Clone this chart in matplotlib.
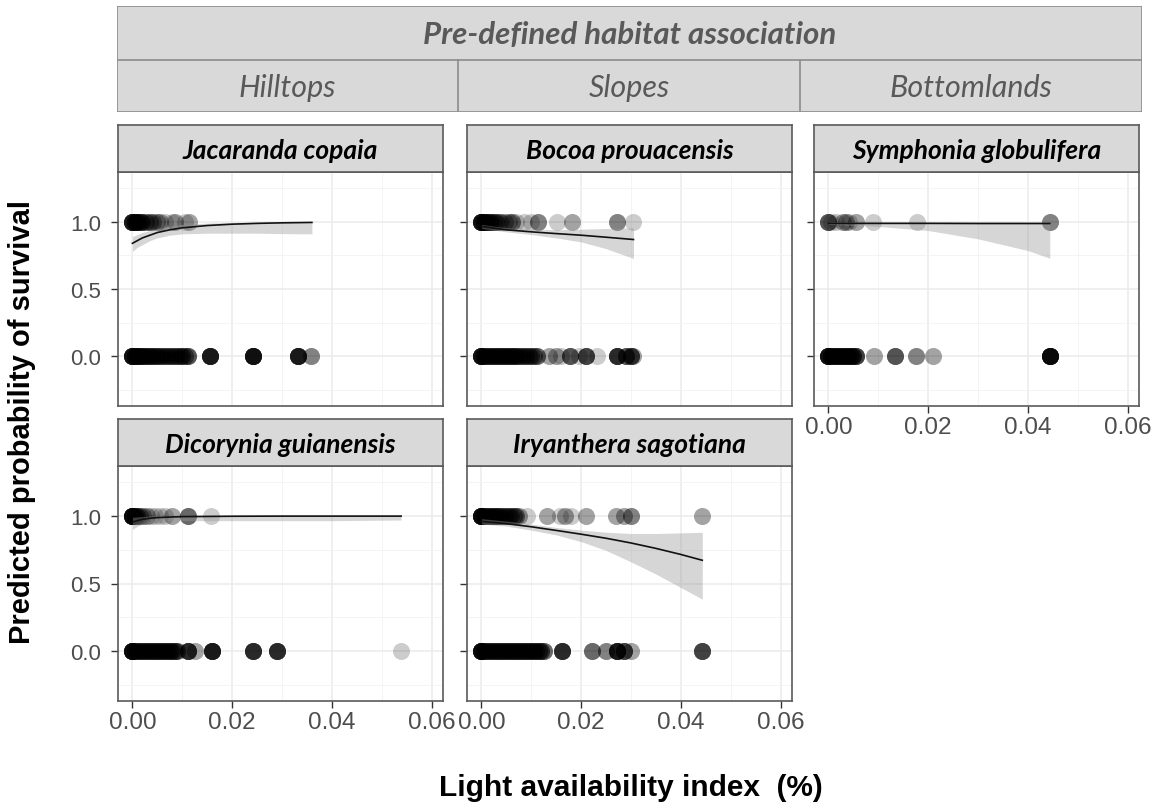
import numpy as np
import matplotlib
matplotlib.use('Agg')
import matplotlib.pyplot as plt
from matplotlib.patches import Rectangle

W, H = 1159, 803

# ---- data: (light index, number of seedlings) ----
species = ['Jacaranda copaia', 'Bocoa prouacensis', 'Symphonia globulifera',
           'Dicorynia guianensis', 'Iryanthera sagotiana']
habitats = ['Hilltops', 'Slopes', 'Bottomlands']

jac_alive = [(0.0, 10), (0.0005, 6), (0.001, 6), (0.0015, 4), (0.002, 4), (0.0028, 3),
             (0.0035, 3), (0.0042, 2), (0.005, 2), (0.0056, 2), (0.0065, 1), (0.008, 1),
             (0.0086, 2), (0.0105, 1), (0.0113, 2)]
jac_dead = [(0.0, 12), (0.0005, 6), (0.001, 6), (0.0015, 5), (0.002, 5), (0.0025, 4),
            (0.003, 4), (0.0035, 4), (0.004, 4), (0.0045, 3), (0.005, 4), (0.0055, 3),
            (0.006, 3), (0.0065, 3), (0.007, 3), (0.0075, 3), (0.008, 3), (0.0085, 3),
            (0.009, 3), (0.0095, 3), (0.01, 4), (0.0105, 3), (0.0112, 5), (0.0156, 10),
            (0.0241, 12), (0.0332, 10), (0.0358, 3)]

boc_alive = [(0.0, 12), (0.0005, 6), (0.001, 5), (0.0015, 4), (0.002, 4), (0.0025, 3),
             (0.003, 3), (0.0035, 2), (0.004, 2), (0.0048, 2), (0.0055, 2), (0.0062, 3),
             (0.007, 1), (0.0085, 1), (0.01, 1), (0.0113, 3), (0.0151, 1), (0.0181, 2),
             (0.0272, 3), (0.0305, 1)]
boc_dead = [(0.0, 12), (0.0005, 4), (0.001, 4), (0.0015, 4), (0.002, 4), (0.0025, 4),
            (0.003, 4), (0.0035, 4), (0.004, 4), (0.0045, 4), (0.005, 4), (0.0055, 4),
            (0.006, 4), (0.0065, 4), (0.007, 4), (0.0075, 3), (0.008, 3), (0.0085, 3),
            (0.009, 3), (0.0095, 3), (0.01, 3), (0.0105, 3), (0.0112, 4), (0.0135, 2),
            (0.015, 2), (0.016, 1), (0.0178, 5), (0.0195, 1), (0.0209, 6), (0.0232, 1),
            (0.0272, 8), (0.029, 5), (0.03, 6), (0.0305, 2)]

sym_alive = [(0.0, 5), (0.0005, 1), (0.0015, 1), (0.003, 2), (0.0035, 2), (0.0042, 1),
             (0.0056, 2), (0.0089, 1), (0.0177, 1), (0.0444, 3)]
sym_dead = [(0.0, 12), (0.0005, 5), (0.001, 5), (0.0015, 5), (0.002, 5), (0.0025, 5),
            (0.003, 5), (0.0035, 5), (0.004, 5), (0.0045, 5), (0.005, 5), (0.0056, 6),
            (0.0091, 2), (0.0134, 5), (0.0175, 3), (0.0209, 2), (0.0444, 14)]

dic_alive = [(0.0, 14), (0.0005, 5), (0.001, 4), (0.0015, 3), (0.0022, 2), (0.003, 2),
             (0.0038, 1), (0.0045, 1), (0.0055, 1), (0.0065, 1), (0.008, 2), (0.0111, 4),
             (0.0158, 1)]
dic_dead = [(0.0, 14), (0.0005, 4), (0.001, 4), (0.0015, 4), (0.002, 4), (0.0025, 4),
            (0.003, 4), (0.0035, 4), (0.004, 4), (0.0045, 4), (0.005, 4), (0.0055, 4),
            (0.006, 4), (0.0065, 4), (0.007, 4), (0.0075, 4), (0.008, 4), (0.0085, 4),
            (0.009, 4), (0.0112, 8), (0.0125, 2), (0.016, 10), (0.0242, 8), (0.029, 8),
            (0.0539, 1)]

iry_alive = [(0.0, 14), (0.0005, 4), (0.001, 4), (0.0015, 4), (0.002, 4), (0.0025, 4),
             (0.003, 4), (0.0035, 4), (0.004, 3), (0.0045, 3), (0.005, 3), (0.0055, 3),
             (0.006, 3), (0.0065, 3), (0.007, 3), (0.0075, 2), (0.0092, 1), (0.0131, 2),
             (0.0158, 1), (0.0168, 2), (0.018, 1), (0.0209, 2), (0.0269, 2), (0.0286, 2),
             (0.03, 3), (0.0442, 2)]
iry_dead = [(0.0, 14), (0.0005, 4), (0.001, 4), (0.0015, 4), (0.002, 4), (0.0025, 4),
            (0.003, 4), (0.0035, 4), (0.004, 4), (0.0045, 4), (0.005, 4), (0.0055, 4),
            (0.006, 4), (0.0065, 4), (0.007, 4), (0.0075, 4), (0.008, 4), (0.0085, 4),
            (0.009, 4), (0.0095, 4), (0.01, 4), (0.0105, 4), (0.011, 4), (0.0115, 4),
            (0.012, 4), (0.0125, 4), (0.0162, 8), (0.0222, 4), (0.0249, 3), (0.0272, 10),
            (0.0285, 6), (0.03, 2), (0.0443, 6)]

# fitted curves and confidence band, read at a few x positions
jac_fx = [0, 0.001, 0.002, 0.0035, 0.005, 0.0075, 0.01, 0.015, 0.02, 0.025, 0.03, 0.036]
jac_fit = [0.84, 0.86, 0.88, 0.90, 0.92, 0.94, 0.955, 0.972, 0.982, 0.988, 0.992, 0.995]
jac_lo = [0.78, 0.81, 0.83, 0.86, 0.88, 0.90, 0.91, 0.915, 0.915, 0.915, 0.912, 0.91]
jac_hi = [0.89, 0.905, 0.92, 0.935, 0.95, 0.967, 0.98, 0.99, 0.995, 0.997, 0.998, 0.999]

boc_fx = [0, 0.005, 0.01, 0.015, 0.02, 0.025, 0.0305]
boc_fit = [0.965, 0.94, 0.925, 0.912, 0.90, 0.885, 0.868]
boc_lo = [0.95, 0.925, 0.905, 0.88, 0.85, 0.80, 0.727]
boc_hi = [0.98, 0.955, 0.945, 0.94, 0.945, 0.95, 0.955]

sym_fx = [0, 0.01, 0.02, 0.03, 0.04, 0.0444]
sym_fit = [0.988, 0.988, 0.988, 0.987, 0.987, 0.987]
sym_lo = [0.98, 0.965, 0.935, 0.873, 0.786, 0.729]
sym_hi = [1.0, 1.0, 1.0, 1.0, 1.0, 1.0]

dic_fx = [0, 0.001, 0.002, 0.0035, 0.005, 0.0075, 0.01, 0.02, 0.03, 0.04, 0.0539]
dic_fit = [0.955, 0.966, 0.975, 0.983, 0.988, 0.992, 0.995, 0.998, 0.999, 0.999, 0.999]
dic_lo = [0.90, 0.925, 0.94, 0.952, 0.96, 0.963, 0.965, 0.965, 0.965, 0.965, 0.97]
dic_hi = [0.99, 0.993, 0.995, 0.998, 1.0, 1.0, 1.0, 1.0, 1.0, 1.0, 1.0]

iry_fx = [0, 0.005, 0.01, 0.015, 0.02, 0.025, 0.03, 0.035, 0.04, 0.0443]
iry_fit = [0.96, 0.943, 0.92, 0.893, 0.865, 0.835, 0.80, 0.76, 0.715, 0.672]
iry_lo = [0.94, 0.925, 0.895, 0.86, 0.81, 0.745, 0.66, 0.57, 0.47, 0.384]
iry_hi = [0.98, 0.962, 0.94, 0.915, 0.895, 0.88, 0.87, 0.87, 0.875, 0.879]

alive = [jac_alive, boc_alive, sym_alive, dic_alive, iry_alive]
dead = [jac_dead, boc_dead, sym_dead, dic_dead, iry_dead]
fits = [(jac_fx, jac_fit, jac_lo, jac_hi), (boc_fx, boc_fit, boc_lo, boc_hi),
        (sym_fx, sym_fit, sym_lo, sym_hi), (dic_fx, dic_fit, dic_lo, dic_hi),
        (iry_fx, iry_fit, iry_lo, iry_hi)]

xticks = [0.0, 0.02, 0.04, 0.06]
yticks = [0.0, 0.5, 1.0]


def box(x0, y0, x1, y1):
    return [x0 / W, 1 - y1 / H, (x1 - x0) / W, (y1 - y0) / H]


# pixel boxes of the panels; strips sit on top
panels = [(118, 173, 443, 407), (467, 173, 792, 407), (814, 173, 1139, 407),
          (118, 467, 443, 702), (467, 467, 792, 702)]
strip_h = 47
show_ylab = [True, False, False, True, False]
show_x = [False, False, True, True, True]

tick_font = 'Liberation Sans'
strip_font = 'Lato'
border = '#5a5a5a'

fig = plt.figure(figsize=(W / 100, H / 100), dpi=100)

for i, name in enumerate(species):
    x0, y0, x1, y1 = panels[i]
    ax = fig.add_axes(box(x0, y0, x1, y1))
    ax.set_xlim(-0.0029, 0.0623)
    ax.set_ylim(-0.37, 1.37)
    ax.set_xticks(xticks)
    ax.set_xticks([0.01, 0.03, 0.05], minor=True)
    ax.set_yticks(yticks)
    ax.set_yticks([-0.25, 0.25, 0.75, 1.25], minor=True)
    ax.grid(which='major', color='#ebebeb', lw=1.1, zorder=0)
    ax.grid(which='minor', color='#f2f2f2', lw=0.6, zorder=0)
    ax.set_axisbelow(True)

    for lst, yv in ((dead[i], 0.0), (alive[i], 1.0)):
        xs = np.repeat([p[0] for p in lst], [p[1] for p in lst])
        ax.scatter(xs, np.full(len(xs), yv), s=150, color='black', alpha=0.2,
                   linewidths=0, zorder=2)

    fx, fit, lo, hi = fits[i]
    ax.fill_between(fx, lo, hi, color='#999999', alpha=0.4, lw=0, zorder=3)
    ax.plot(fx, fit, color='#111111', lw=1.2, zorder=4)

    for sp in ax.spines.values():
        sp.set_color(border)
        sp.set_linewidth(1.2)

    ax.tick_params(axis='both', which='minor', length=0)
    ax.tick_params(axis='y', which='major', length=5, width=1, color='#333333',
                   labelsize=16, labelcolor='#4d4d4d', labelleft=show_ylab[i], pad=7)
    if show_x[i]:
        ax.tick_params(axis='x', which='major', length=5, width=1, color='#333333',
                       labelsize=17.5, labelcolor='#4d4d4d', pad=2)
        ax.set_xticklabels(['%.2f' % v for v in xticks])
    else:
        ax.tick_params(axis='x', which='major', length=0, labelbottom=False)
    for lab in ax.get_xticklabels() + ax.get_yticklabels():
        lab.set_fontfamily(tick_font)

    # strip
    sax = fig.add_axes(box(x0, y0 - strip_h, x1, y0))
    sax.set_facecolor('#d9d9d9')
    sax.set_xticks([])
    sax.set_yticks([])
    for sp in sax.spines.values():
        sp.set_color(border)
        sp.set_linewidth(1.2)
    sax.text(0.5, 0.47, name, ha='center', va='center', fontsize=19,
             fontfamily=strip_font, fontweight='bold', fontstyle='italic',
             color='black', transform=sax.transAxes)

# header block
hx0, hy0, hx1, hy1, hmid = 117, 7, 1142, 113, 61
hax = fig.add_axes(box(hx0, hy0, hx1, hy1))
hax.set_xlim(hx0, hx1)
hax.set_ylim(hy1, hy0)
hax.axis('off')
hax.add_patch(Rectangle((hx0, hy0), hx1 - hx0, hy1 - hy0, facecolor='#d9d9d9',
                        edgecolor='#8c8c8c', lw=1.2))
hax.plot([hx0, hx1], [hmid, hmid], color='#8c8c8c', lw=1.2)
dividers = [458, 800]
for dx in dividers:
    hax.plot([dx, dx], [hmid, hy1], color='#8c8c8c', lw=1.2)
hax.text((hx0 + hx1) / 2, (hy0 + hmid) / 2 + 1, 'Pre-defined habitat association',
         ha='center', va='center', fontsize=22.5, fontfamily=strip_font,
         fontweight='bold', fontstyle='italic', color='#595959')
edges = [hx0] + dividers + [hx1]
for k, hab in enumerate(habitats):
    hax.text((edges[k] + edges[k + 1]) / 2, (hmid + hy1) / 2 + 1, hab,
             ha='center', va='center', fontsize=22, fontfamily=strip_font,
             fontstyle='italic', color='#595959')

fig.text(22 / W, 1 - 422 / H, 'Predicted probability of survival', rotation=90,
         ha='center', va='center', fontsize=21, fontweight='bold',
         fontfamily=tick_font, color='black')
fig.text(631 / W, 1 - 788 / H, 'Light availability index  (%)', ha='center',
         va='center', fontsize=21.5, fontweight='bold', fontfamily=tick_font,
         color='black')

fig.savefig('out.png', dpi=100)
